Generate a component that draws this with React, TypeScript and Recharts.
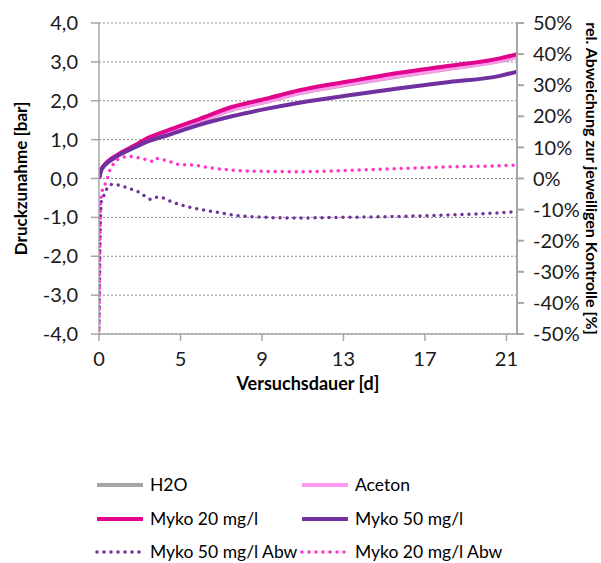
import React from 'react';
import { LineChart, Line, XAxis, YAxis, CartesianGrid } from 'recharts';

// x positions are category positions along the Excel category axis (one unit per labelled tick)
const xTickLabels = ['0', '5', '9', '13', '17', '21'];
const xTicks = [0, 1, 2, 3, 4, 5];

const mainPos = [0, 0.025, 0.06, 0.12, 0.22, 0.41, 0.61, 0.82, 1.23, 1.63, 2.05, 2.46, 3.07, 3.69, 4.3, 4.92, 5.13];
const h2o = [0, 0.21, 0.32, 0.45, 0.58, 0.79, 0.99, 1.16, 1.47, 1.76, 1.97, 2.19, 2.42, 2.63, 2.82, 3.02, 3.12];
const aceton = [0, 0.22, 0.33, 0.46, 0.59, 0.8, 1.0, 1.17, 1.48, 1.77, 1.98, 2.2, 2.43, 2.64, 2.83, 3.03, 3.13];
const myko20 = [0, 0.22, 0.33, 0.46, 0.6, 0.82, 1.05, 1.22, 1.53, 1.84, 2.05, 2.27, 2.5, 2.72, 2.9, 3.09, 3.2];
const myko50 = [0, 0.2, 0.32, 0.43, 0.57, 0.77, 0.96, 1.1, 1.38, 1.6, 1.79, 1.95, 2.14, 2.32, 2.48, 2.64, 2.75];

const abw20Pos = [0, 0.006, 0.012, 0.018, 0.035, 0.06, 0.1, 0.12, 0.16, 0.23, 0.37, 0.53, 0.68, 0.71, 0.86, 0.98, 1.11, 1.44, 1.68, 1.97, 2.42, 3.28, 4.09, 5.04, 5.13];
const abw20 = [-48.8, -35, -20, -8, -4.5, -2.6, -0.3, 1.7, 3.9, 6.1, 7.1, 6.4, 5.5, 6.4, 5.5, 4.5, 4.4, 3.2, 2.6, 2.3, 2.2, 2.8, 3.6, 4.2, 4.3];
const abw50Pos = [0, 0.012, 0.02, 0.036, 0.086, 0.1, 0.16, 0.25, 0.37, 0.49, 0.64, 0.7, 0.76, 0.9, 1.11, 1.32, 1.51, 1.68, 2.42, 2.95, 3.69, 4.43, 5.04, 5.13];
const abw50 = [-48, -20, -10.8, -6.4, -4.4, -2.9, -1.9, -2.2, -3.2, -4.4, -6.7, -6.0, -6.1, -7.6, -9.2, -10.3, -11.1, -11.9, -12.7, -12.5, -12.2, -11.6, -10.8, -10.6];

const leftTicks = [-4, -3, -2, -1, 0, 1, 2, 3, 4];
const rightTicks = [-50, -40, -30, -20, -10, 0, 10, 20, 30, 40, 50];

const FONT = 'Lato, "Open Sans", sans-serif';
const TEXT = '#1a1a1a';
const AXIS = '#a6a6a6';

const toPoints = (xs: number[], ys: number[]) => xs.map((x, i) => ({ pos: x, v: ys[i] }));

type Series = { name: string; data: { pos: number; v: number }[]; color: string; axis: string; dotted: boolean };

const series: Series[] = [
  { name: 'H2O', data: toPoints(mainPos, h2o), color: '#a6a6a6', axis: 'left', dotted: false },
  { name: 'Aceton', data: toPoints(mainPos, aceton), color: '#ff99ee', axis: 'left', dotted: false },
  { name: 'Myko 20 mg/l', data: toPoints(mainPos, myko20), color: '#e0058c', axis: 'left', dotted: false },
  { name: 'Myko 50 mg/l', data: toPoints(mainPos, myko50), color: '#7030a0', axis: 'left', dotted: false },
  { name: 'Myko 50 mg/l Abw', data: toPoints(abw50Pos, abw50), color: '#7030a0', axis: 'right', dotted: true },
  { name: 'Myko 20 mg/l Abw', data: toPoints(abw20Pos, abw20), color: '#ff33cc', axis: 'right', dotted: true },
];

const lineStyle = (s: Series) =>
  s.dotted
    ? { strokeWidth: 3.5, strokeDasharray: '0 7', strokeLinecap: 'round' as const }
    : { strokeWidth: 4, strokeLinecap: 'butt' as const };

export default function App() {
  return (
    <div style={{ position: 'absolute', left: 0, top: 0, width: 601, height: 563, background: '#fff', fontFamily: FONT }}>
      <LineChart width={601} height={563} margin={{ top: 23, right: 0, bottom: 0, left: 0 }}>
        <CartesianGrid yAxisId="left" vertical={false} stroke="#8c8c8c" strokeDasharray="2 2" />
        <XAxis
          dataKey="pos"
          type="number"
          domain={[0, 5.13]}
          ticks={xTicks}
          tickFormatter={(v: number) => xTickLabels[v]}
          height={229}
          allowDataOverflow
          stroke={AXIS}
          strokeWidth={1.5}
          tickSize={7}
          tickMargin={11}
          tick={{ fill: TEXT, fontSize: 20, fontFamily: FONT }}
          label={{
            content: (p: any) => {
              const vb = p.viewBox || {};
              return (
                <text x={vb.x + vb.width / 2} y={390} textAnchor="middle" fontSize={18} fontWeight={700} fill="#000" fontFamily={FONT}>
                  Versuchsdauer [d]
                </text>
              );
            },
          }}
        />
        <YAxis
          yAxisId="left"
          type="number"
          domain={[-4, 4]}
          ticks={leftTicks}
          tickFormatter={(v: number) => v.toFixed(1).replace('.', ',')}
          width={99}
          stroke={AXIS}
          strokeWidth={1.5}
          tickSize={8}
          tickMargin={13}
          tick={{ fill: TEXT, fontSize: 20, fontFamily: FONT }}
          label={{
            content: (p: any) => {
              const vb = p.viewBox || {};
              const cx = 20;
              const cy = vb.y + vb.height / 2;
              return (
                <text x={cx} y={cy} transform={`rotate(-90 ${cx} ${cy})`} textAnchor="middle" dominantBaseline="central" fontSize={17} fontWeight={700} fill="#000" fontFamily={FONT}>
                  Druckzunahme [bar]
                </text>
              );
            },
          }}
        />
        <YAxis
          yAxisId="right"
          orientation="right"
          type="number"
          domain={[-50, 50]}
          ticks={rightTicks}
          tickFormatter={(v: number) => `${v}%`}
          width={84}
          stroke={AXIS}
          strokeWidth={2}
          tickSize={7}
          tickMargin={9}
          tick={{ fill: TEXT, fontSize: 20, fontFamily: FONT }}
          label={{
            content: (p: any) => {
              const vb = p.viewBox || {};
              const cx = 592;
              const cy = vb.y + vb.height / 2;
              return (
                <text x={cx} y={cy} transform={`rotate(90 ${cx} ${cy})`} textAnchor="middle" dominantBaseline="central" fontSize={16} fontWeight={700} fill="#000" fontFamily={FONT}>
                  rel. Abweichung zur jeweiligen Kontrolle [%]
                </text>
              );
            },
          }}
        />
        {series.map((s) => (
          <Line
            key={s.name}
            name={s.name}
            yAxisId={s.axis}
            data={s.data}
            dataKey="v"
            type="monotone"
            stroke={s.color}
            dot={false}
            activeDot={false}
            isAnimationActive={false}
            {...lineStyle(s)}
          />
        ))}
      </LineChart>
      {series.map((s, i) => {
        const col = i % 2;
        const row = Math.floor(i / 2);
        const left = col === 0 ? 95 : 300;
        const top = 485 + row * 33.5;
        return (
          <div key={s.name} style={{ position: 'absolute', left, top: top - 9, height: 18, display: 'flex', alignItems: 'center' }}>
            <svg width={50} height={10} style={{ display: 'block' }}>
              <line x1={2} y1={5} x2={48} y2={5} stroke={s.color} {...lineStyle(s)} />
            </svg>
            <span style={{ marginLeft: 5, fontSize: 17.5, color: '#000', fontFamily: FONT, whiteSpace: 'nowrap', lineHeight: '18px' }}>{s.name}</span>
          </div>
        );
      })}
    </div>
  );
}
